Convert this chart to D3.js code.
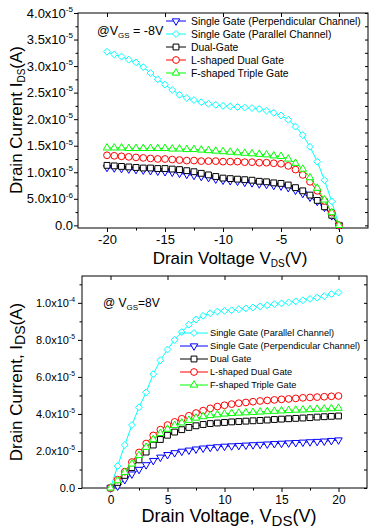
<!DOCTYPE html>
<html>
<head>
<meta charset="utf-8">
<script src="https://cdn.jsdelivr.net/npm/d3@7"></script>
<style>
  body { margin: 0; background: #fff; }
  svg { display: block; font-family: "Liberation Sans", Arial, sans-serif; }
</style>
</head>
<body>
<div id="chart"></div>
<script>
// ---- top panel (VGS = -8V), currents in units of 1e-5 A ----
const topVds = [-20, -19.375, -18.75, -18.125, -17.5, -16.875, -16.25, -15.625, -15, -14.375, -13.75,
  -13.125, -12.5, -11.875, -11.25, -10.625, -10, -9.375, -8.75, -8.125, -7.5, -6.875, -6.25, -5.625,
  -5, -4.375, -3.75, -3.125, -2.5, -1.875, -1.25, -0.625, 0];
const topPerp = [1.09, 1.08, 1.07, 1.06, 1.05, 1.04, 1.03, 1.02, 1.01, 1.00, 0.98, 0.96, 0.94, 0.92, 0.90, 0.87,
  0.85, 0.84, 0.83, 0.81, 0.80, 0.78, 0.77, 0.75, 0.74, 0.71, 0.66, 0.60, 0.53, 0.45, 0.34, 0.18, 0];
const topPara = [3.27, 3.22, 3.18, 3.12, 3.07, 2.98, 2.87, 2.75, 2.65, 2.55, 2.46, 2.40, 2.36, 2.32, 2.29, 2.27,
  2.25, 2.24, 2.23, 2.22, 2.21, 2.19, 2.16, 2.12, 2.07, 1.99, 1.86, 1.70, 1.48, 1.20, 0.85, 0.45, 0];
const topDual = [1.13, 1.12, 1.11, 1.10, 1.09, 1.08, 1.08, 1.07, 1.07, 1.06, 1.05, 1.03, 1.01, 0.98, 0.95, 0.92,
  0.89, 0.88, 0.87, 0.86, 0.85, 0.83, 0.82, 0.80, 0.79, 0.76, 0.71, 0.65, 0.57, 0.47, 0.35, 0.19, 0];
const topLDual = [1.32, 1.31, 1.30, 1.29, 1.28, 1.27, 1.26, 1.25, 1.25, 1.24, 1.23, 1.22, 1.22, 1.21, 1.21, 1.21,
  1.20, 1.20, 1.20, 1.19, 1.19, 1.18, 1.18, 1.17, 1.16, 1.12, 1.05, 0.95, 0.82, 0.65, 0.46, 0.24, 0];
const topFTriple = [1.46, 1.46, 1.46, 1.45, 1.45, 1.45, 1.45, 1.45, 1.45, 1.44, 1.44, 1.43, 1.43, 1.42, 1.41, 1.40,
  1.39, 1.38, 1.37, 1.36, 1.35, 1.34, 1.33, 1.31, 1.30, 1.25, 1.17, 1.06, 0.90, 0.70, 0.48, 0.24, 0];
const topNames = ["Single Gate (Perpendicular Channel)", "Single Gate (Parallel Channel)", "Dual-Gate",
  "L-shaped Dual Gate", "F-shaped Triple Gate"];
const topXTicks = [-20, -15, -10, -5, 0];
const topXMinor = [-17.5, -12.5, -7.5, -2.5];
const topYTicks = [0, 0.5, 1.0, 1.5, 2.0, 2.5, 3.0, 3.5, 4.0];
const topYMant = ["0.0", "5.0x10", "1.0x10", "1.5x10", "2.0x10", "2.5x10", "3.0x10", "3.5x10", "4.0x10"];
const topYExp = ["", "-6", "-5", "-5", "-5", "-5", "-5", "-5", "-5"];
const topYMinor = [0.25, 0.75, 1.25, 1.75, 2.25, 2.75, 3.25, 3.75];

// ---- bottom panel (VGS = 8V), currents in units of 1e-5 A ----
const botVds = [0, 0.625, 1.25, 1.875, 2.5, 3.125, 3.75, 4.375, 5, 5.625, 6.25, 6.875, 7.5, 8.125, 8.75,
  9.375, 10, 10.625, 11.25, 11.875, 12.5, 13.125, 13.75, 14.375, 15, 15.625, 16.25, 16.875, 17.5,
  18.125, 18.75, 19.375, 20];
const botPara = [0, 1.19, 2.32, 3.40, 4.36, 5.17, 6.15, 6.90, 7.48, 8.00, 8.42, 8.82, 9.10, 9.30, 9.44, 9.53,
  9.57, 9.60, 9.65, 9.70, 9.75, 9.81, 9.87, 9.93, 9.97, 10.02, 10.08, 10.14, 10.21, 10.28, 10.36, 10.47, 10.56];
const botPerp = [0, 0.10, 0.45, 0.75, 1.00, 1.25, 1.48, 1.66, 1.80, 1.90, 1.98, 2.04, 2.10, 2.15, 2.19, 2.22,
  2.25, 2.27, 2.29, 2.31, 2.33, 2.35, 2.37, 2.39, 2.41, 2.43, 2.45, 2.47, 2.49, 2.51, 2.53, 2.56, 2.59];
const botDual = [0, 0.30, 0.68, 1.10, 1.52, 1.94, 2.32, 2.62, 2.85, 3.02, 3.15, 3.27, 3.36, 3.43, 3.48, 3.51,
  3.54, 3.57, 3.59, 3.61, 3.63, 3.65, 3.67, 3.70, 3.72, 3.74, 3.76, 3.78, 3.80, 3.83, 3.85, 3.87, 3.89];
const botLDual = [0, 0.45, 0.88, 1.40, 1.92, 2.40, 2.84, 3.15, 3.40, 3.57, 3.74, 3.90, 4.05, 4.18, 4.30, 4.40,
  4.47, 4.53, 4.58, 4.62, 4.66, 4.70, 4.73, 4.76, 4.79, 4.81, 4.84, 4.87, 4.89, 4.91, 4.93, 4.95, 4.97];
const botFTriple = [0, 0.40, 0.85, 1.30, 1.76, 2.20, 2.62, 2.95, 3.18, 3.38, 3.52, 3.66, 3.78, 3.86, 3.92, 3.96,
  4.00, 4.03, 4.05, 4.07, 4.09, 4.11, 4.13, 4.15, 4.17, 4.19, 4.21, 4.22, 4.24, 4.26, 4.27, 4.29, 4.31];
const botNames = ["Single Gate (Parallel Channel)", "Single Gate (Perpendicular Channel)", "Dual Gate",
  "L-shaped Dual Gate", "F-shaped Triple Gate"];
const botXTicks = [0, 5, 10, 15, 20];
const botXMinor = [2.5, 7.5, 12.5, 17.5];
const botYTicks = [0, 2, 4, 6, 8, 10];
const botYMant = ["0.0", "2.0x10", "4.0x10", "6.0x10", "8.0x10", "1.0x10"];
const botYExp = ["", "-5", "-5", "-5", "-5", "-4"];
const botYMinor = [1, 3, 5, 7, 9, 11];

const svg = d3.select("#chart").append("svg")
    .attr("width", 369)
    .attr("height", 528);

const symbolTypes = {
    down: d3.symbolTriangle,
    up: d3.symbolTriangle,
    square: d3.symbolSquare,
    circle: d3.symbolCircle,
    diamond: d3.symbolDiamond2 || d3.symbolDiamond
};
const symbolSizes = { down: 24, up: 24, square: 34, circle: 36, diamond: 30 };

function marker(sel, kind, color) {
    sel.append("path")
        .attr("d", d3.symbol().type(symbolTypes[kind]).size(symbolSizes[kind])())
        .attr("transform", kind === "down" ? "rotate(180)" : null)
        .attr("fill", "#fff")
        .attr("stroke", color)
        .attr("stroke-width", 1);
}

// text made of pieces: [string, fontSize, dy]
function richText(g, x, y, parts, opts = {}) {
    const t = g.append("text")
        .attr("x", x)
        .attr("y", y)
        .attr("fill", "#000")
        .attr("text-anchor", opts.anchor || "start");
    if (opts.rotate) t.attr("transform", `rotate(-90,${x},${y})`);
    parts.forEach(([s, size, dy]) => {
        t.append("tspan").attr("font-size", size).attr("dy", dy || 0).text(s);
    });
    return t;
}

function drawPanel(p) {
    const g = svg.append("g");
    const x = d3.scaleLinear().domain(p.xDomain).range([p.left, p.right]);
    const y = d3.scaleLinear().domain(p.yDomain).range([p.bottom, p.top]);

    const clean = a => { a.select(".domain").remove(); a.selectAll("line").attr("stroke", "#000"); };

    // minor ticks (outer: left/bottom, inner: right)
    g.append("g").attr("transform", `translate(0,${p.bottom})`)
        .call(d3.axisBottom(x).tickValues(p.xMinor).tickSizeInner(2.5).tickSizeOuter(0).tickFormat(""))
        .call(clean);
    g.append("g").attr("transform", `translate(${p.left},0)`)
        .call(d3.axisLeft(y).tickValues(p.yMinor).tickSizeInner(2.5).tickSizeOuter(0).tickFormat(""))
        .call(clean);
    g.append("g").attr("transform", `translate(${p.right},0)`)
        .call(d3.axisRight(y).tickValues(p.yMinor.concat(p.yTicks)).tickSizeInner(-3).tickSizeOuter(0).tickFormat(""))
        .call(clean);
    g.append("g").attr("transform", `translate(0,${p.top})`)
        .call(d3.axisTop(x).tickValues(p.xTicks).tickSizeInner(-4).tickSizeOuter(0).tickFormat(""))
        .call(clean);

    // major bottom axis
    g.append("g").attr("transform", `translate(0,${p.bottom})`)
        .call(d3.axisBottom(x).tickValues(p.xTicks).tickSizeInner(4).tickSizeOuter(0).tickPadding(p.xPad)
            .tickFormat(d => String(d)))
        .call(clean)
        .call(a => a.selectAll("text").attr("font-size", p.xFont).attr("font-family", null).attr("fill", "#000"));

    // major left axis with superscript exponents
    g.append("g").attr("transform", `translate(${p.left},0)`)
        .call(d3.axisLeft(y).tickValues(p.yTicks).tickSizeInner(4).tickSizeOuter(0).tickPadding(p.yPad)
            .tickFormat((d, i) => p.yMant[i]))
        .call(clean)
        .call(a => a.selectAll("text")
            .attr("font-size", p.yFont).attr("font-family", null).attr("fill", "#000")
            .each(function (d, i) {
                if (p.yExp[i]) {
                    d3.select(this).append("tspan")
                        .attr("font-size", p.yFont * 0.62)
                        .attr("dy", -p.yFont * 0.45)
                        .text(p.yExp[i]);
                }
            }));

    // frame
    g.append("rect")
        .attr("x", p.left).attr("y", p.top)
        .attr("width", p.right - p.left).attr("height", p.bottom - p.top)
        .attr("fill", "none").attr("stroke", "#000").attr("stroke-width", 1);

    const line = d3.line().x(d => x(d[0])).y(d => y(d[1]));

    p.series.forEach(s => {
        const pts = p.xs.map((v, i) => [v, s.values[i]]);
        g.append("path").datum(pts)
            .attr("fill", "none").attr("stroke", s.color).attr("stroke-width", 1)
            .attr("d", line);
        g.append("g").selectAll("g")
            .data(pts)
            .enter().append("g")
            .attr("transform", d => `translate(${x(d[0])},${y(d[1])})`)
            .each(function () { marker(d3.select(this), s.kind, s.color); });
    });

    // legend
    p.series.forEach((s, i) => {
        const ly = p.legY + i * p.legStep;
        const lg = g.append("g");
        lg.append("line")
            .attr("x1", p.legX0).attr("x2", p.legX1).attr("y1", ly).attr("y2", ly)
            .attr("stroke", s.color).attr("stroke-width", 1);
        const m = lg.append("g").attr("transform", `translate(${(p.legX0 + p.legX1) / 2},${ly})`);
        marker(m, s.kind, s.color);
        lg.append("text")
            .attr("x", p.legTx).attr("y", ly + p.legFont * 0.36)
            .attr("font-size", p.legFont).attr("fill", "#000")
            .text(s.name);
    });

    return g;
}

const colors = { perp: "#0000ff", para: "#00ffff", dual: "#000000", ldual: "#ff0000", ftri: "#00ff00" };

const topPanel = drawPanel({
    left: 78, right: 368, top: 13, bottom: 228,
    xDomain: [-22.5, 2.5], yDomain: [-0.05, 4.0],
    xs: topVds, xTicks: topXTicks, xMinor: topXMinor,
    yTicks: topYTicks, yMinor: topYMinor, yMant: topYMant, yExp: topYExp,
    xFont: 13, yFont: 13, xPad: 3, yPad: 1,
    legY: 21, legStep: 13, legX0: 166, legX1: 186, legTx: 191, legFont: 10.4,
    series: [
        { name: topNames[0], values: topPerp, color: colors.perp, kind: "down" },
        { name: topNames[1], values: topPara, color: colors.para, kind: "diamond" },
        { name: topNames[2], values: topDual, color: colors.dual, kind: "square" },
        { name: topNames[3], values: topLDual, color: colors.ldual, kind: "circle" },
        { name: topNames[4], values: topFTriple, color: colors.ftri, kind: "up" }
    ]
});

const bottomPanel = drawPanel({
    left: 82, right: 367, top: 276, bottom: 488,
    xDomain: [-2.5, 22.5], yDomain: [0, 11.45],
    xs: botVds, xTicks: botXTicks, xMinor: botXMinor,
    yTicks: botYTicks, yMinor: botYMinor, yMant: botYMant, yExp: botYExp,
    xFont: 12, yFont: 11, xPad: 3, yPad: 3,
    legY: 333, legStep: 13, legX0: 180, legX1: 208, legTx: 210, legFont: 9.2,
    series: [
        { name: botNames[0], values: botPara, color: colors.para, kind: "diamond" },
        { name: botNames[1], values: botPerp, color: colors.perp, kind: "down" },
        { name: botNames[2], values: botDual, color: colors.dual, kind: "square" },
        { name: botNames[3], values: botLDual, color: colors.ldual, kind: "circle" },
        { name: botNames[4], values: botFTriple, color: colors.ftri, kind: "up" }
    ]
});

// axis titles and annotations
richText(topPanel, 230, 264, [["Drain Voltage V", 17, 0], ["DS", 10, 3], ["(V)", 17, -3]], { anchor: "middle" });
richText(topPanel, 22, 120, [["Drain Current I", 17, 0], ["DS", 10, 3], ["(A)", 17, -3]], { anchor: "middle", rotate: true });
richText(topPanel, 97, 35, [["@V", 12.5, 0], ["GS", 8, 3], [" = -8V", 12.5, -3]]);

richText(bottomPanel, 229, 522, [["Drain Voltage, V", 18, 0], ["DS", 15, 4], ["(V)", 18, -4]], { anchor: "middle" });
richText(bottomPanel, 22, 382, [["Drain Current, I", 17, 0], ["DS", 14, 3], ["(A)", 17, -3]], { anchor: "middle", rotate: true });
richText(bottomPanel, 103, 307, [["@ V", 12, 0], ["GS", 8, 3], ["=8V", 12, -3]]);
</script>
</body>
</html>
